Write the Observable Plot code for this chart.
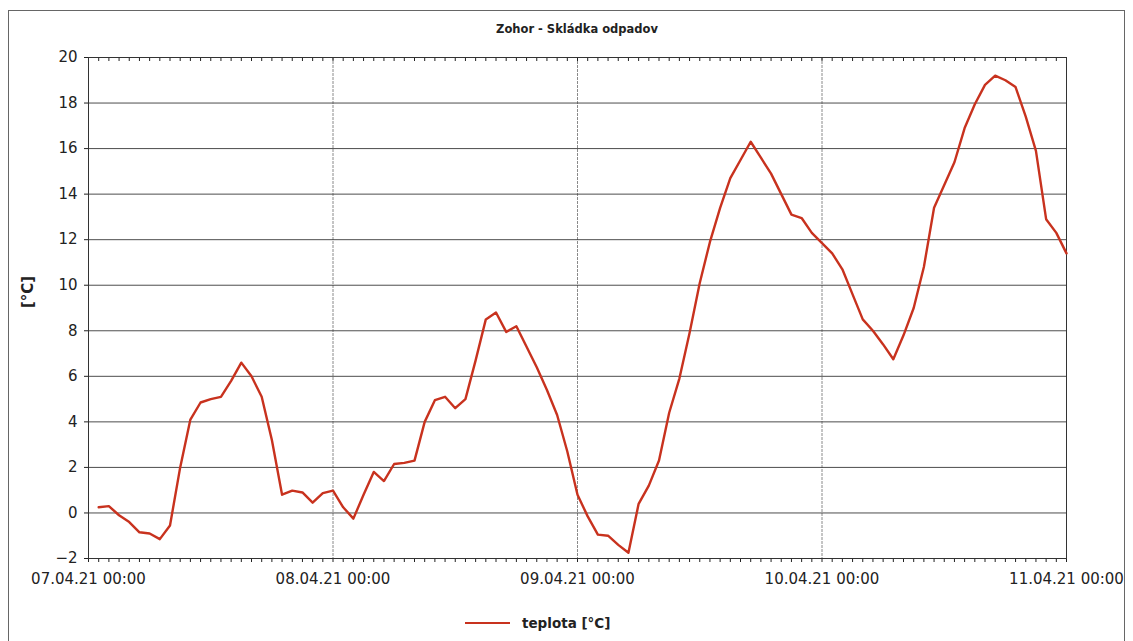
<!DOCTYPE html>
<html>
<head>
<meta charset="utf-8">
<script src="https://cdn.jsdelivr.net/npm/d3@7"></script>
<script src="https://cdn.jsdelivr.net/npm/@observablehq/plot@0.6"></script>
<style>
  body { margin: 0; background: #fff; }
  #wrap { position: relative; width: 1133px; height: 641px; overflow: hidden; font-family: "DejaVu Sans", sans-serif; color: #222; }
  #frame { position: absolute; left: 8px; top: 10px; width: 1117px; height: 640px; border: 1px solid #666; box-sizing: border-box; }
  #title { position: absolute; left: 0; top: 22px; width: 1154px; text-align: center; font-weight: bold; font-size: 11.5px; }
  #chart { position: absolute; left: 0; top: 40px; }
  #legend { position: absolute; left: 465px; top: 615px; display: flex; align-items: center; font-weight: bold; font-size: 13.5px; }
  #legend .sw { width: 45px; height: 0; border-top: 2.5px solid #c8321e; margin-right: 12px; }
</style>
</head>
<body>
<div id="wrap">
  <div id="frame"></div>
  <div id="title"></div>
  <div id="chart"></div>
  <div id="legend"><span class="sw"></span><span id="legtext"></span></div>
</div>
<script>
const title = "Zohor - Skládka odpadov";
const yLabel = "[°C]";
const seriesName = "teplota [°C]";
const startTime = "2021-04-07T00:00Z";
// hourly readings from 07.04.21 01:00 to 11.04.21 00:00
const temps = [
  0.25, 0.3, -0.1, -0.4, -0.85, -0.9, -1.15, -0.55, 2.0, 4.1, 4.85, 5.0,
  5.1, 5.8, 6.6, 6.0, 5.1, 3.2, 0.8, 0.98, 0.9, 0.45, 0.87, 0.98,
  0.25, -0.25, 0.8, 1.8, 1.4, 2.15, 2.2, 2.3, 4.0, 4.95, 5.1, 4.6,
  5.0, 6.7, 8.5, 8.8, 7.95, 8.2, 7.3, 6.4, 5.4, 4.3, 2.7, 0.8,
  -0.15, -0.95, -1.0, -1.4, -1.75, 0.4, 1.2, 2.3, 4.4, 5.9, 7.9, 10.1,
  11.9, 13.4, 14.7, 15.5, 16.3, 15.6, 14.9, 14.0, 13.1, 12.95, 12.3, 11.85,
  11.4, 10.7, 9.6, 8.5, 8.0, 7.4, 6.75, 7.8, 9.0, 10.8, 13.4, 14.4,
  15.4, 16.9, 17.95, 18.8, 19.2, 19.0, 18.7, 17.4, 15.9, 12.9, 12.3, 11.4
];
const dayTicks = ["2021-04-07T00:00Z", "2021-04-08T00:00Z", "2021-04-09T00:00Z", "2021-04-10T00:00Z", "2021-04-11T00:00Z"];
const dayTickLabels = ["07.04.21 00:00", "08.04.21 00:00", "09.04.21 00:00", "10.04.21 00:00", "11.04.21 00:00"];
const yTicks = [-2, 0, 2, 4, 6, 8, 10, 12, 14, 16, 18, 20];

document.getElementById("title").textContent = title;
document.getElementById("legtext").textContent = seriesName;

const t0 = new Date(startTime).getTime();
const data = temps.map((v, i) => ({t: new Date(t0 + (i + 1) * 3600e3), v}));
const dayDates = dayTicks.map(s => new Date(s));
const hourTicks = d3.utcHours(dayDates[0], new Date(+dayDates[dayDates.length - 1] + 1));
const fmt = d => dayTickLabels[dayDates.findIndex(x => +x === +d)];
const lineColor = "#c8321e";

const chart = Plot.plot({
  width: 1133, height: 560,
  marginLeft: 88, marginRight: 67, marginTop: 17, marginBottom: 42,
  style: {fontFamily: "DejaVu Sans, sans-serif", fontSize: "15px", color: "#222", background: "transparent", overflow: "visible"},
  x: {type: "utc", domain: [dayDates[0], dayDates[dayDates.length - 1]]},
  y: {domain: [-2, 20]},
  marks: [
    Plot.gridX(dayDates, {stroke: "#8a8a8a", strokeOpacity: 1, strokeDasharray: "3,1"}),
    Plot.gridY(yTicks, {stroke: "#3a3a3a", strokeOpacity: 0.9}),
    Plot.axisX(hourTicks, {anchor: "bottom", tickSize: 4, fill: "none", label: null}),
    Plot.axisX(hourTicks, {anchor: "top", tickSize: -3, fill: "none", label: null}),
    Plot.axisX(dayDates, {anchor: "bottom", tickSize: 0, tickPadding: 15, tickFormat: fmt, label: null}),
    Plot.axisY(yTicks, {tickSize: 4, tickPadding: 7, label: null}),
    Plot.frame({stroke: "#333"}),
    Plot.line(data, {x: "t", y: "v", stroke: lineColor, strokeWidth: 2.4}),
    Plot.text([yLabel], {frameAnchor: "left", dx: -60, rotate: -90, fontWeight: "bold", fontSize: 15, fill: "#222"})
  ]
});
document.getElementById("chart").appendChild(chart);
</script>
</body>
</html>
